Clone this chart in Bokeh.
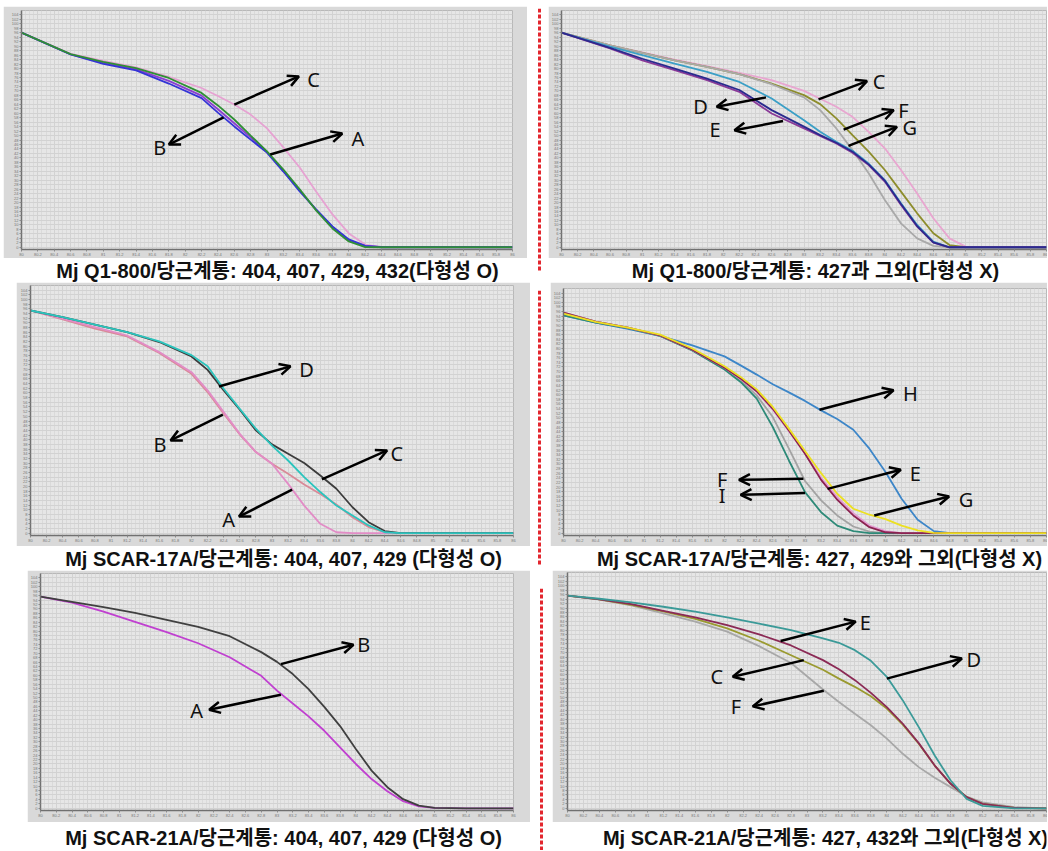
from bokeh.plotting import figure
from bokeh.layouts import row, column, Spacer
from bokeh.models import Range1d, FixedTicker, Span, Arrow, OpenHead, Label
from bokeh.embed import file_html
from bokeh.resources import INLINE

# ---------------- data (normalized fluorescence vs temperature) ----------------
x_ticks = [80.0, 80.2, 80.4, 80.6, 80.8, 81.0, 81.2, 81.4, 81.6, 81.8, 82.0, 82.2, 82.4, 82.6,
           82.8, 83.0, 83.2, 83.4, 83.6, 83.8, 84.0, 84.2, 84.4, 84.6, 84.8, 85.0, 85.2, 85.4,
           85.6, 85.8, 86.0]
y_ticks = list(range(0, 106, 2))

# Panel 1: Mj Q1-800 (polymorphic)
p1_temp = [80.0, 80.6, 81.0, 81.4, 81.8, 82.2, 82.4, 82.6, 82.8, 83.0, 83.2, 83.4, 83.6, 83.8, 84.0, 84.2, 84.4, 84.6, 86.0]
p1_pink = [96.1, 86.6, 83.4, 80.5, 76.3, 71.3, 67.7, 63.9, 59.4, 53.2, 44.7, 35.7, 25.0, 14.7, 6.2, 1.2, 0.0, 0.0, 0.0]
p1_purple = [96.1, 86.4, 82.6, 79.6, 74.5, 67.9, 61.8, 55.5, 49.2, 42.6, 34.2, 25.4, 16.8, 9.0, 3.2, 0.6, 0.2, 0.1, 0.1]
p1_blue = [96.1, 86.3, 82.1, 79.2, 73.3, 66.8, 60.3, 54.1, 48.2, 42.4, 33.9, 25.0, 17.0, 9.3, 3.5, 0.6, 0.0, 0.0, 0.0]
p1_green = [96.1, 86.5, 83.0, 80.2, 75.8, 69.1, 63.5, 57.2, 50.0, 42.9, 34.8, 25.9, 16.5, 8.4, 2.6, 0.1, 0.0, 0.0, 0.0]

# Panel 2: Mj Q1-800 (not polymorphic)
p2_temp = [80.0, 80.6, 81.0, 81.4, 81.8, 82.2, 82.6, 83.0, 83.2, 83.4, 83.6, 83.8, 84.0, 84.2, 84.4, 84.6, 84.8, 85.0, 86.0]
p2_pink = [96.1, 90.4, 87.2, 84.0, 81.1, 78.1, 74.8, 70.0, 66.5, 62.9, 58.4, 51.7, 44.3, 34.6, 24.1, 13.0, 4.0, 0.3, 0.0]
p2_olive = [96.1, 90.4, 87.0, 83.7, 80.8, 77.5, 73.3, 68.1, 64.1, 57.7, 50.2, 42.8, 34.6, 24.9, 15.2, 6.3, 1.0, 0.0, 0.0]
p2_gray = [96.1, 90.4, 87.0, 83.7, 80.8, 77.5, 73.0, 67.1, 61.4, 53.2, 43.5, 33.1, 21.2, 10.7, 4.0, 0.6, 0.0, 0.0, 0.0]
p2_teal = [96.1, 89.8, 86.0, 82.2, 78.5, 74.0, 66.6, 56.9, 51.7, 47.2, 43.2, 37.5, 30.1, 19.7, 10.0, 2.5, 0.0, 0.0, 0.0]
p2_purple = [96.1, 89.0, 83.7, 79.3, 74.8, 69.6, 59.9, 53.2, 49.8, 46.5, 42.3, 36.8, 29.4, 18.9, 9.2, 2.1, 0.0, 0.0, 0.0]
p2_navy = [96.1, 89.3, 84.4, 80.0, 75.5, 70.4, 61.4, 54.0, 50.2, 46.8, 42.8, 37.1, 29.8, 19.4, 9.5, 2.2, 0.0, 0.0, 0.0]

# Panel 3: Mj SCAR-17A (polymorphic)
p3_temp = [80.0, 80.4, 80.8, 81.2, 81.6, 82.0, 82.2, 82.4, 82.6, 82.8, 83.0, 83.2, 83.4, 83.6, 83.8, 84.0, 84.2, 84.4, 84.6, 85.0, 86.0]
p3_black = [95.3, 92.5, 89.3, 86.0, 81.8, 75.6, 69.9, 61.1, 52.8, 44.0, 38.0, 34.0, 30.0, 24.7, 19.0, 11.1, 4.7, 0.9, 0.0, 0.0, 0.0]
p3_teal = [95.3, 92.5, 89.3, 86.0, 82.1, 76.2, 71.4, 61.8, 53.2, 44.7, 37.5, 31.1, 24.0, 17.6, 11.8, 7.6, 3.3, 0.4, 0.0, 0.0, 0.0]
p3_pink = [95.3, 91.8, 88.2, 84.6, 77.5, 68.9, 61.1, 51.8, 42.5, 34.7, 29.7, 21.1, 11.8, 4.0, 0.4, 0.0, 0.0, 0.0, 0.0, 0.0, 0.0]
p3_rose = [95.3, 91.5, 87.5, 84.2, 77.1, 68.2, 60.4, 51.1, 42.2, 34.7, 29.7, 25.4, 20.8, 16.8, 12.3, 6.8, 2.6, 0.4, 0.0, 0.0, 0.0]

# Panel 4: Mj SCAR-17A (not polymorphic)
p4_temp = [80.0, 80.4, 80.8, 81.2, 81.6, 82.0, 82.2, 82.4, 82.6, 82.8, 83.0, 83.2, 83.4, 83.6, 83.8, 84.0, 84.2, 84.4, 84.6, 84.8, 85.0, 85.4, 86.0]
p4_blue = [94.4, 91.2, 88.5, 85.5, 81.4, 76.6, 72.7, 68.7, 64.5, 61.0, 57.3, 53.2, 49.5, 44.8, 36.6, 26.5, 14.9, 5.8, 0.9, 0.0, 0.0, 0.0, 0.0]
p4_yellow = [95.1, 91.5, 89.1, 86.0, 80.0, 72.3, 67.7, 62.3, 54.7, 45.3, 35.6, 26.0, 17.1, 10.6, 8.0, 6.1, 3.3, 1.2, 0.1, 0.0, 0.0, 0.0, 0.0]
p4_maroon = [95.6, 91.7, 89.1, 85.7, 79.5, 71.7, 67.0, 61.5, 53.9, 44.5, 34.4, 23.1, 14.5, 7.7, 2.6, 0.4, 0.0, 0.0, 0.0, 0.0, 0.0, 0.0, 0.0]
p4_pink = [95.6, 91.7, 89.1, 85.7, 79.5, 71.7, 66.8, 61.2, 53.5, 44.2, 34.7, 24.0, 15.6, 8.7, 3.3, 0.9, 0.0, 0.0, 0.0, 0.0, 0.0, 0.0, 0.0]
p4_gray = [95.6, 91.7, 89.1, 85.5, 79.2, 71.3, 66.2, 59.7, 50.3, 36.6, 22.6, 14.2, 7.7, 2.9, 0.7, 0.0, 0.0, 0.0, 0.0, 0.0, 0.0, 0.0, 0.0]
p4_teal = [94.4, 91.2, 88.8, 85.5, 79.2, 70.9, 65.5, 58.3, 46.0, 31.5, 17.8, 9.1, 3.3, 0.9, 0.0, 0.0, 0.0, 0.0, 0.0, 0.0, 0.0, 0.0, 0.0]

# Panel 5: Mj SCAR-21A (polymorphic)
p5_temp = [80.0, 80.4, 80.8, 81.2, 81.6, 82.0, 82.4, 82.8, 83.0, 83.2, 83.4, 83.6, 83.8, 84.0, 84.2, 84.4, 84.6, 84.8, 85.0, 85.4, 86.0]
p5_black = [95.6, 93.2, 90.8, 88.2, 85.1, 81.9, 77.7, 70.5, 66.1, 60.6, 53.8, 45.8, 37.1, 26.8, 17.0, 9.5, 4.1, 1.2, 0.2, 0.0, 0.0]
p5_magenta = [95.6, 92.9, 88.8, 84.2, 79.5, 74.5, 68.2, 59.8, 53.1, 47.3, 41.5, 35.0, 27.5, 20.0, 13.2, 7.7, 3.2, 0.9, 0.2, 0.0, 0.0]

# Panel 6: Mj SCAR-21A (not polymorphic)
p6_temp = [80.0, 80.4, 80.8, 81.2, 81.6, 82.0, 82.4, 82.8, 83.2, 83.4, 83.6, 83.8, 84.0, 84.2, 84.4, 84.6, 84.8, 85.0, 85.2, 85.6, 86.0]
p6_teal = [95.6, 94.2, 92.6, 90.6, 88.4, 85.8, 83.0, 80.1, 76.4, 74.4, 71.1, 66.3, 59.1, 48.5, 36.5, 23.7, 12.5, 4.2, 1.1, 0.0, 0.0]
p6_maroon = [95.6, 93.9, 91.8, 88.8, 85.8, 82.3, 78.2, 73.2, 66.6, 62.5, 57.6, 51.9, 45.5, 38.0, 29.3, 19.2, 11.0, 5.0, 2.0, 0.2, 0.0]
p6_olive = [95.6, 93.9, 91.5, 88.5, 85.2, 80.9, 75.3, 68.8, 62.3, 58.3, 54.6, 50.4, 44.8, 37.6, 29.0, 19.2, 11.0, 5.0, 2.0, 0.2, 0.0]
p6_gray = [95.6, 93.8, 91.2, 87.6, 83.9, 79.4, 72.9, 65.3, 53.4, 47.8, 42.5, 37.3, 31.3, 24.5, 18.5, 13.7, 9.5, 5.3, 2.7, 0.5, 0.0]

# annotation arrows: (x_start, y_start, x_end, y_end) and letters (text, x, y)
p1_arrows = [(82.60, 63.9, 83.39, 76.5), (83.04, 41.5, 83.92, 50.9), (82.47, 58.1, 81.80, 46.0)]
p1_letters = [("C", 83.57, 75.1), ("A", 84.11, 48.7), ("B", 81.69, 44.7)]
p2_arrows = [(83.18, 66.2, 83.78, 74.4), (82.53, 67.1, 81.92, 62.9), (82.74, 56.5, 82.14, 52.4),
             (83.49, 52.7, 84.11, 61.4), (83.55, 45.4, 84.15, 53.9)]
p2_letters = [("C", 83.93, 74.4), ("D", 81.72, 63.2), ("E", 81.90, 52.7), ("F", 84.23, 61.1), ("G", 84.31, 53.6)]
p3_arrows = [(82.34, 62.8, 83.23, 71.4), (82.39, 50.7, 81.74, 39.7), (83.62, 23.0, 84.43, 35.4), (83.25, 18.6, 82.59, 7.1)]
p3_letters = [("D", 83.43, 69.9), ("B", 81.61, 38.0), ("C", 84.55, 34.2), ("A", 82.46, 5.7)]
p4_arrows = [(83.18, 53.5, 84.10, 61.9), (83.28, 19.2, 84.19, 27.5), (83.86, 7.7, 84.79, 15.9),
             (82.98, 23.6, 82.18, 23.1), (83.00, 17.4, 82.20, 16.6)]
p4_letters = [("H", 84.31, 60.4), ("E", 84.37, 26.0), ("G", 85.00, 14.5), ("F", 81.97, 23.1), ("I", 81.97, 16.3)]
p5_arrows = [(83.05, 65.1, 83.97, 73.8), (83.05, 51.3, 82.14, 44.5)]
p5_letters = [("B", 84.10, 73.8), ("A", 81.98, 44.0)]
p6_arrows = [(82.67, 75.2, 83.61, 83.9), (84.00, 58.3, 84.94, 67.3), (82.96, 66.6, 82.07, 59.1), (83.21, 52.8, 82.32, 45.8)]
p6_letters = [("E", 83.73, 83.4), ("D", 85.09, 66.9), ("C", 81.87, 59.4), ("F", 82.11, 45.8)]

captions = [
    "Mj Q1-800/당근계통: 404, 407, 429, 432(다형성 O)",
    "Mj Q1-800/당근계통: 427과 그외(다형성 X)",
    "Mj SCAR-17A/당근계통: 404, 407, 429 (다형성 O)",
    "Mj SCAR-17A/당근계통: 427, 429와 그외(다형성 X)",
    "Mj SCAR-21A/당근계통: 404, 407, 429 (다형성 O)",
    "Mj SCAR-21A/당근계통: 427, 432와 그외(다형성 X)",
]

CAPTION_FONT = "'Liberation Sans', 'Noto Sans CJK KR', sans-serif"


# ---------------- helpers ----------------
def chart(w, h, borders, temp, series, arrows, letters):
    left, right, top, bottom = borders
    p = figure(width=w, height=h, x_range=Range1d(80, 86), y_range=Range1d(-1, 106),
               output_backend="svg", toolbar_location=None,
               min_border_left=left, min_border_right=right,
               min_border_top=top, min_border_bottom=bottom)
    p.background_fill_color = "#e6e6e6"
    p.border_fill_color = "#d9d9d9"
    p.outline_line_color = "#b8b8b8"
    p.xaxis.ticker = FixedTicker(ticks=x_ticks,
                                 minor_ticks=[t + d for t in x_ticks[:-1] for d in (0.05, 0.1, 0.15)])
    p.yaxis.ticker = FixedTicker(ticks=y_ticks)
    p.xgrid.grid_line_color = "#d2d2d2"
    p.xgrid.minor_grid_line_color = "#dadada"
    p.ygrid.grid_line_color = "#d2d2d2"
    for ax in (p.xaxis[0], p.yaxis[0]):
        ax.axis_line_color = "#707070"
        ax.axis_line_width = 1.5
        ax.major_tick_line_color = "#8a8a8a"
        ax.major_tick_out = 2
        ax.major_tick_in = 0
        ax.minor_tick_out = 0
        ax.minor_tick_in = 0
        ax.major_label_text_font_size = "4px"
        ax.major_label_text_color = "#777777"
        ax.major_label_standoff = 1
    for ys, color in series:
        p.line(temp, ys, line_color=color, line_width=1.8)
    for (x0, y0, x1, y1) in arrows:
        p.add_layout(Arrow(end=OpenHead(size=11, line_width=2.5, line_color="black"),
                           x_start=x0, y_start=y0, x_end=x1, y_end=y1,
                           line_width=2.5, line_color="black"))
    for (t, lx, ly) in letters:
        p.add_layout(Label(x=lx, y=ly, text=t, text_align="center", text_baseline="middle",
                           text_font="Noto Sans", text_font_size="20px", text_color="#111111"))
    return p


def caption(w, h, text, cx, cy):
    c = figure(width=w, height=h, x_range=Range1d(0, 1), y_range=Range1d(0, 1),
               output_backend="svg", toolbar_location=None,
               x_axis_location=None, y_axis_location=None, min_border=0)
    c.grid.visible = False
    c.outline_line_color = None
    c.background_fill_color = "white"
    c.border_fill_color = "white"
    c.add_layout(Label(x=cx, y=cy, x_units="screen", y_units="screen", text=text,
                       text_align="center", text_baseline="middle",
                       text_font=CAPTION_FONT, text_font_style="bold",
                       text_font_size="20px", text_color="#111111"))
    return c


def separator(w, h, loc, top, bottom):
    s = figure(width=w, height=h, x_range=Range1d(0, w), y_range=Range1d(0, 1),
               output_backend="svg", toolbar_location=None,
               x_axis_location=None, y_axis_location=None,
               min_border_left=0, min_border_right=0,
               min_border_top=top, min_border_bottom=bottom)
    s.grid.visible = False
    s.outline_line_color = None
    s.background_fill_color = "white"
    s.border_fill_color = "white"
    s.add_layout(Span(location=loc, dimension="height", line_color="#e3262e",
                      line_width=3, line_dash="4 2"))
    return s


# ---------------- panels ----------------
c1 = chart(524, 252, (18, 15, 4, 9), p1_temp,
           [(p1_pink, "#e6a2d2"), (p1_purple, "#8a3fd0"), (p1_blue, "#3434d6"), (p1_green, "#2f8f35")],
           p1_arrows, p1_letters)
c2 = chart(499, 252, (9, 1, 4, 9), p2_temp,
           [(p2_pink, "#e8a6d0"), (p2_olive, "#8d8d2c"), (p2_gray, "#a9a9a9"), (p2_teal, "#3b9fc6"),
            (p2_purple, "#8a3a98"), (p2_navy, "#2a2a8e")],
           p2_arrows, p2_letters)
c3 = chart(514, 264, (14, 17, 3, 11), p3_temp,
           [(p3_rose, "#d98a98"), (p3_pink, "#e28cc6"), (p3_black, "#3c3c3c"), (p3_teal, "#2bc4bd")],
           p3_arrows, p3_letters)
c4 = chart(497, 264, (11, 1, 6, 11), p4_temp,
           [(p4_blue, "#3d86c8"), (p4_gray, "#a3a3a3"), (p4_teal, "#2e8a78"), (p4_pink, "#e49ad2"),
            (p4_maroon, "#8b2250"), (p4_yellow, "#ece022")],
           p4_arrows, p4_letters)
c5 = chart(503, 252, (12, 17, 3, 12), p5_temp,
           [(p5_magenta, "#c040d0"), (p5_black, "#404040")],
           p5_arrows, p5_letters)
c6 = chart(495, 252, (15, 1, 2, 12), p6_temp,
           [(p6_gray, "#a8a8a8"), (p6_olive, "#9a9a30"), (p6_maroon, "#8b2a55"), (p6_teal, "#3b9a98")],
           p6_arrows, p6_letters)

row1 = row(column(row(Spacer(width=3, height=252), c1), caption(527, 24, captions[0], 277, 12)),
           separator(21, 276, 12, 2, 10),
           column(c2, caption(499, 24, captions[1], 254, 12)))
row2 = row(column(row(Spacer(width=16, height=264), c3), caption(530, 24, captions[2], 283, 12)),
           separator(20, 288, 9, 8, 4),
           column(c4, caption(497, 24, captions[3], 256, 12)))
row3 = row(column(row(Spacer(width=27, height=252), c5), caption(530, 28, captions[4], 283, 13)),
           separator(22, 280, 11, 18, 0),
           column(c6, caption(495, 28, captions[5], 258, 13)))

layout = column(Spacer(width=1047, height=6), row1, row2, row3)

with open("out.html", "w") as f:
    f.write(file_html(layout, INLINE))
